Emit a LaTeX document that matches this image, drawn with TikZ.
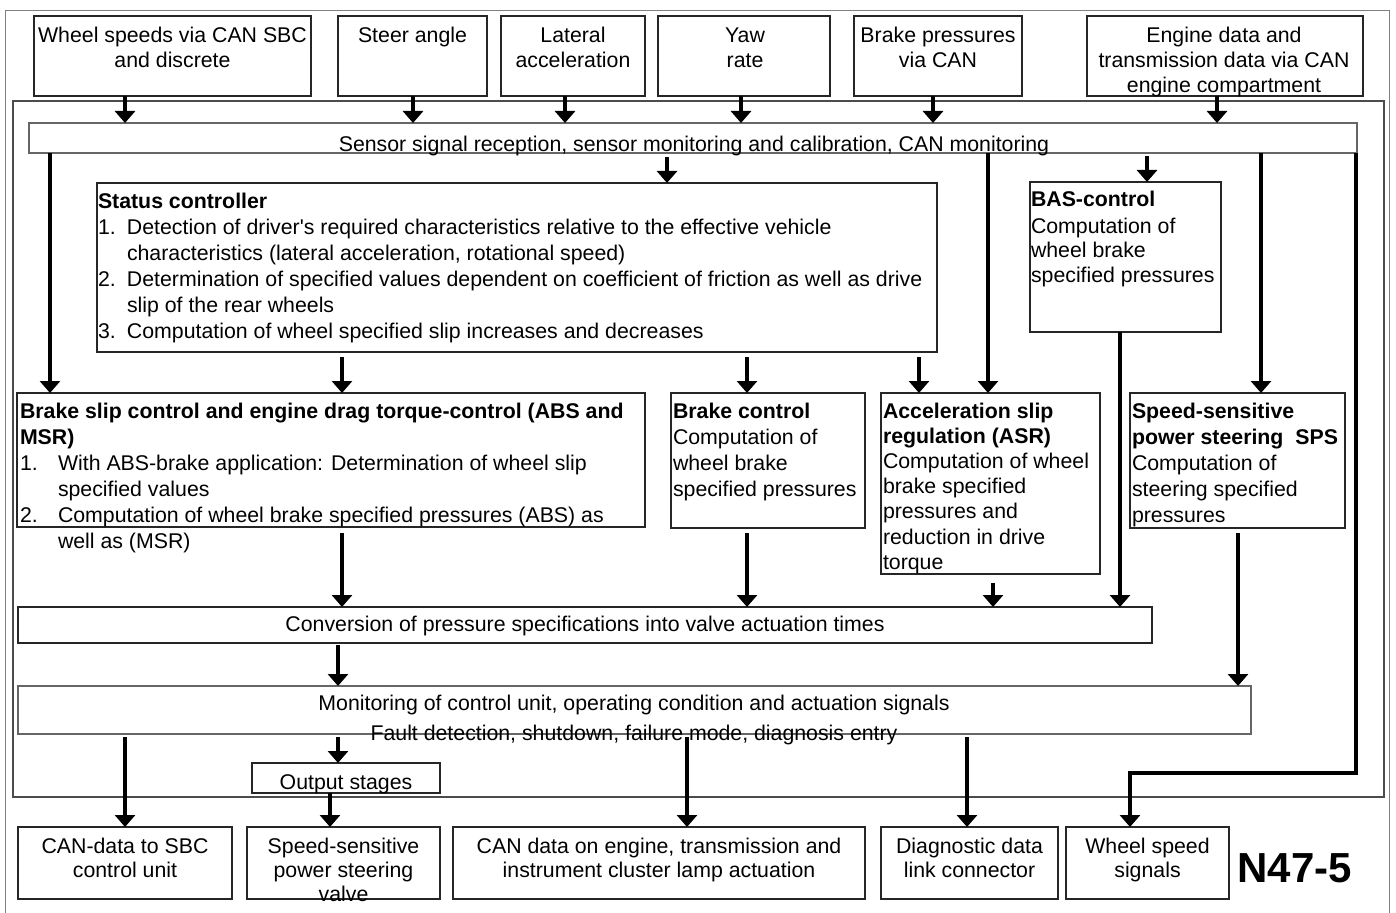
\documentclass[tikz,border=0pt]{standalone}
\usepackage{fontspec}
\setmainfont{Liberation Sans}
\usetikzlibrary{arrows.meta,calc}
\newcommand\fa{\fontsize{21.3}{24.5}\selectfont}
\newcommand\fb{\fontsize{21.3}{26}\selectfont}
\newcommand\fc{\fontsize{21.3}{30}\selectfont}
\newcommand\fe{\fontsize{21.3}{25.2}\selectfont}
\newcommand\ff{\fontsize{21.3}{24}\selectfont}
\newcommand\bx[6][box]{\node[#1, minimum width={#5-#3}, minimum height={#6-#4}] (#2) at (#3,#4) {};}
\newcommand\av[5]{\draw[arr] ($(#1 -| #3,0)+(0,#4)$) -- (#2 -| #3,0);}
\begin{document}
\begin{tikzpicture}[x=1pt,y=-1pt,
  box/.style={draw=black!85, line width=1.3pt, inner sep=0pt, outer sep=0pt, anchor=north west},
  bar/.style={box, draw=black!60},
  frame/.style={box, draw=black!70, line width=2pt},
  txt/.style={inner sep=0pt, outer sep=0pt, text=black},
  arr/.style={line width=3.4pt, -{Triangle[width=20pt,length=12pt]}, line join=miter}]
\useasboundingbox (0,0) rectangle (1396,912);
% outer border
\draw[black!50, line width=1pt] (5,920) -- (5,10.7) -- (1389,10.7) -- (1389,920);
% main frame
\bx[frame]{frame}{12.7}{100.7}{1384}{797}
% top input boxes
\bx{wheel}{34}{16}{311}{96}
\bx{steer}{338}{16}{487}{96}
\bx{lat}{501}{16}{645}{96}
\bx{yaw}{658}{16}{830}{96}
\bx{bp}{854}{16}{1022}{96}
\bx{eng}{1087}{16}{1363}{96}
\node[txt, anchor=north, align=center, font=\fe] (wheelT) at (172.5,24.86) {\strut Wheel speeds via CAN SBC\\and discrete};
\node[txt, anchor=north, align=center, font=\fe] (steerT) at (412.5,24.86) {\strut Steer angle};
\node[txt, anchor=north, align=center, font=\fe] (latT) at (573,24.86) {\strut Lateral\\acceleration};
\node[txt, anchor=north, align=center, font=\fe] (yawT) at (745,24.86) {\strut Yaw\\rate};
\node[txt, anchor=north, align=center, font=\fe] (bpT) at (938,24.86) {\strut Brake pressures\\via CAN};
\node[txt, anchor=north, align=center, font=\fe] (engT) at (1224,24.86) {\strut Engine data and\\transmission data via CAN\\engine compartment};
% sensor bar
\bx[bar]{sensor}{29}{123}{1357}{153}
\node[txt, anchor=north, font=\fa] (sensorT) at (694,134.85) {\strut Sensor signal reception, sensor monitoring and calibration, CAN monitoring};
% status controller
\bx{status}{97}{183}{937}{352}
\node[txt, anchor=north west, align=left, font=\fb] (statusT) at (98,189.8) {\strut\textbf{Status controller}\\
\makebox[29pt][l]{1.}Detection of driver\textquotesingle s required characteristics relative to the effective vehicle\\
\hspace*{29pt}characteristics (lateral acceleration, rotational speed)\\
\makebox[29pt][l]{2.}Determination of specified values dependent on coefficient of friction as well as drive\\
\hspace*{29pt}slip of the rear wheels\\
\makebox[29pt][l]{3.}Computation of wheel specified slip increases and decreases};
% BAS
\bx{bas}{1030}{182}{1221}{332}
\node[txt, anchor=north west, align=left, font=\fa] (basT) at (1031,188.85) {\strut\textbf{BAS-control}\\[2.5pt]Computation of\\wheel brake\\specified pressures};
% row 2
\bx{abs}{17}{393}{645}{527}
\node[txt, anchor=north west, align=left, font=\fb] (absT) at (20,399.8) {\strut\textbf{Brake slip control and engine drag torque-control (ABS and}\\\textbf{MSR)}\\
\makebox[38pt][l]{1.}With ABS-brake application: Determination of wheel slip\\
\hspace*{38pt}specified values\\
\makebox[38pt][l]{2.}Computation of wheel brake specified pressures (ABS) as\\
\hspace*{38pt}well as (MSR)};
\bx{brk}{671}{393}{865}{528}
\node[txt, anchor=north west, align=left, font=\fb] (brkT) at (673,399.8) {\strut\textbf{Brake control}\\Computation of\\wheel brake\\specified pressures};
\bx{asr}{881}{393}{1100}{574}
\node[txt, anchor=north west, align=left, font=\fe] (asrT) at (883,400.36) {\strut\textbf{Acceleration slip}\\\textbf{regulation (ASR)}\\Computation of wheel\\brake specified\\pressures and\\reduction in drive\\torque};
\bx{sps}{1130}{393}{1345}{528}
\node[txt, anchor=north west, align=left, font=\fb] (spsT) at (1132,399.8) {\strut\textbf{Speed-sensitive}\\\textbf{power steering\ \ SPS}\\Computation of\\steering specified\\pressures};
% conversion
\bx{conv}{18}{607}{1152}{643}
\node[txt, anchor=north, font=\fa] (convT) at (585,613.85) {\strut Conversion of pressure specifications into valve actuation times};
% monitoring
\bx[bar]{mon}{18}{686}{1251}{734}
\node[txt, anchor=north, align=center, font=\fc] (monT) at (634,689) {\strut Monitoring of control unit, operating condition and actuation signals\\Fault detection, shutdown, failure mode, diagnosis entry};
% output stages
\bx{outst}{252}{763}{440}{793}
\node[txt, anchor=north, font=\fa] (outstT) at (346,771.85) {\strut Output stages};
% bottom boxes
\bx{cansbc}{18}{827}{232}{899}
\bx{valve}{247}{827}{440}{899}
\bx{caneng}{453}{827}{865}{899}
\bx{diag}{881}{827}{1058}{899}
\bx{wss}{1066}{827}{1229}{899}
\node[txt, anchor=north, align=center, font=\ff] (cansbcT) at (125,836.2) {\strut CAN-data to SBC\\control unit};
\node[txt, anchor=north, align=center, font=\ff] (valveT) at (343.5,836.2) {\strut Speed-sensitive\\power steering\\valve};
\node[txt, anchor=north, align=center, font=\ff] (canengT) at (659,836.2) {\strut CAN data on engine, transmission and\\instrument cluster lamp actuation};
\node[txt, anchor=north, align=center, font=\ff] (diagT) at (969.5,836.2) {\strut Diagnostic data\\link connector};
\node[txt, anchor=north, align=center, font=\ff] (wssT) at (1147.5,836.2) {\strut Wheel speed\\signals};
\node[txt, anchor=base east, font=\fontsize{42}{48}\selectfont\bfseries] (n47) at (1352,882) {N47-5};
% arrows: inputs to sensor bar
\av{wheel.south}{sensor.north}{125}{0}{}
\av{steer.south}{sensor.north}{413}{0}{}
\av{lat.south}{sensor.north}{565}{0}{}
\av{yaw.south}{sensor.north}{741}{0}{}
\av{bp.south}{sensor.north}{933}{0}{}
\av{eng.south}{sensor.north}{1217}{0}{}
% from sensor bar
\av{sensor.south}{abs.north}{50}{0}{}
\av{sensor.south}{status.north}{667}{4}{}
\av{sensor.south}{asr.north}{988}{0}{}
\av{sensor.south}{bas.north}{1147}{3}{}
\av{sensor.south}{sps.north}{1261}{0}{}
\coordinate (wsbend) at (1356,773);
\draw[arr] (sensor.south -| wsbend) -- (wsbend) -| (wss.north -| 1130,0);
% from status controller
\av{status.south}{abs.north}{342}{5}{}
\av{status.south}{brk.north}{747}{5}{}
\av{status.south}{asr.north}{919}{5}{}
% into conversion
\av{abs.south}{conv.north}{342}{6}{}
\av{brk.south}{conv.north}{747}{5}{}
\av{asr.south}{conv.north}{993}{9}{}
\av{bas.south}{conv.north}{1120}{0}{}
% into monitoring
\av{conv.south}{mon.north}{338}{2}{}
\av{sps.south}{mon.north}{1238}{5}{}
% out of monitoring
\av{mon.south}{cansbc.north}{125}{3}{}
\av{mon.south}{outst.north}{338}{3}{}
\av{mon.south}{caneng.north}{687}{3}{}
\av{mon.south}{diag.north}{967}{3}{}
\av{outst.south}{valve.north}{330}{0}{}
\end{tikzpicture}
\end{document}
